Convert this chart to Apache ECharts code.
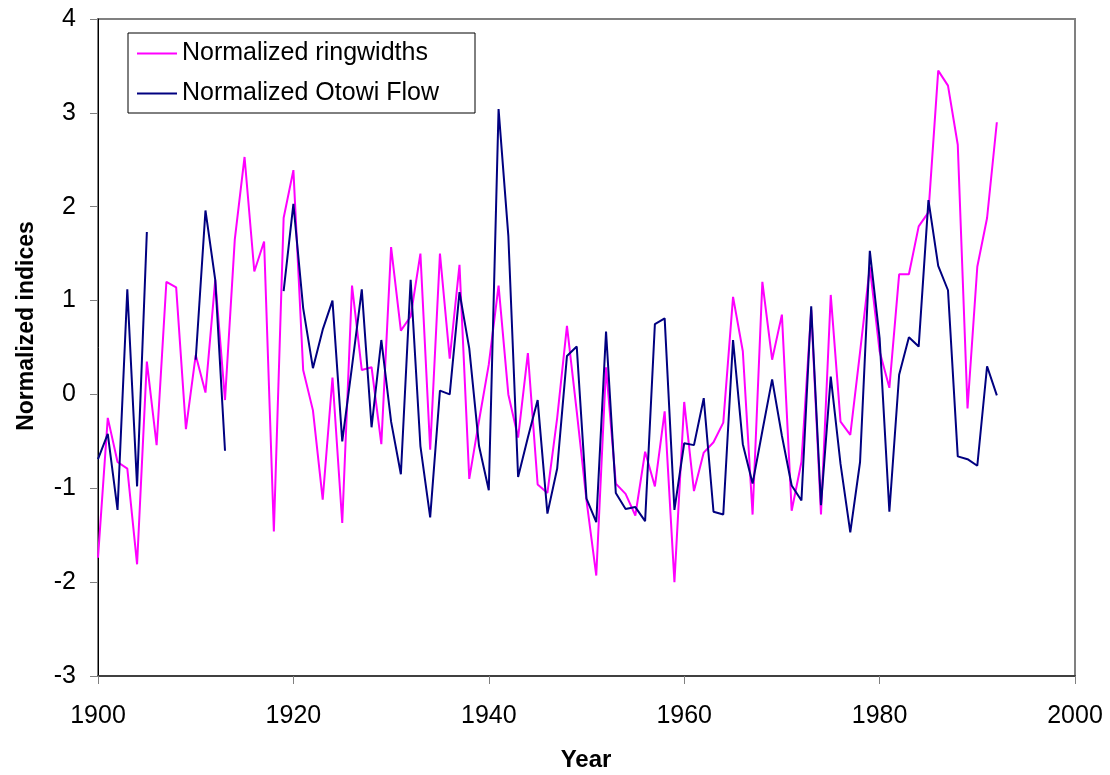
<!DOCTYPE html>
<html>
<head>
<meta charset="utf-8">
<script src="https://cdn.jsdelivr.net/npm/echarts@6/dist/echarts.min.js"></script>
<style>
html,body{margin:0;padding:0;background:#fff;}
#chart{width:1110px;height:775px;}
</style>
</head>
<body>
<div id="chart"></div>
<script>
const years = [1900,1901,1902,1903,1904,1905,1906,1907,1908,1909,
1910,1911,1912,1913,1914,1915,1916,1917,1918,1919,
1920,1921,1922,1923,1924,1925,1926,1927,1928,1929,
1930,1931,1932,1933,1934,1935,1936,1937,1938,1939,
1940,1941,1942,1943,1944,1945,1946,1947,1948,1949,
1950,1951,1952,1953,1954,1955,1956,1957,1958,1959,
1960,1961,1962,1963,1964,1965,1966,1967,1968,1969,
1970,1971,1972,1973,1974,1975,1976,1977,1978,1979,
1980,1981,1982,1983,1984,1985,1986,1987,1988,1989,
1990,1991,1992];

const ringwidths = [-1.74,-0.25,-0.72,-0.79,-1.81,0.35,-0.54,1.20,1.14,-0.37,
0.42,0.02,1.22,-0.06,1.65,2.53,1.31,1.63,-1.46,1.88,
2.39,0.26,-0.17,-1.12,0.18,-1.37,1.16,0.26,0.29,-0.53,
1.57,0.68,0.83,1.50,-0.59,1.50,0.38,1.38,-0.90,-0.28,
0.32,1.16,0.00,-0.46,0.44,-0.96,-1.05,-0.25,0.73,-0.18,
-1.13,-1.93,0.29,-0.95,-1.06,-1.29,-0.61,-0.98,-0.18,-2.00,
-0.08,-1.03,-0.62,-0.51,-0.30,1.04,0.46,-1.28,1.20,0.37,
0.85,-1.24,-0.72,0.90,-1.28,1.06,-0.29,-0.43,0.45,1.36,
0.46,0.07,1.28,1.28,1.79,1.94,3.45,3.29,2.66,-0.15,
1.36,1.88,2.90];

const otowiFlow = [-0.69,-0.42,-1.23,1.12,-0.98,1.73,null,null,null,null,
0.37,1.96,1.22,-0.60,null,null,null,null,null,1.10,
2.03,0.92,0.28,0.69,1.00,-0.50,0.30,1.12,-0.35,0.58,
-0.29,-0.85,1.22,-0.55,-1.31,0.04,0.00,1.09,0.49,-0.55,
-1.02,3.04,1.69,-0.88,-0.46,-0.06,-1.27,-0.79,0.41,0.51,
-1.11,-1.36,0.67,-1.05,-1.22,-1.20,-1.35,0.75,0.81,-1.23,
-0.52,-0.54,-0.04,-1.25,-1.28,0.58,-0.53,-0.95,-0.39,0.16,
-0.44,-0.97,-1.13,0.94,-1.18,0.19,-0.74,-1.47,-0.72,1.53,
0.60,-1.25,0.21,0.61,0.51,2.07,1.37,1.11,-0.66,-0.69,
-0.76,0.30,-0.01];

const seriesNames = ['Normalized ringwidths','Normalized Otowi Flow'];
const xTitle = 'Year';
const yTitle = 'Normalized indices';

const pair = (arr) => years.map((y, i) => [y, arr[i]]);

const font = 'Liberation Sans, Arial, sans-serif';
const chart = echarts.init(document.getElementById('chart'), null, {renderer:'canvas'});
chart.setOption({
  animation: false,
  backgroundColor: '#fff',
  grid: {left: 98, right: 35, top: 19, bottom: 99, show: true, borderColor: '#808080', borderWidth: 2, backgroundColor: 'transparent'},
  legend: {
    orient: 'vertical', left: 128, top: 33,
    backgroundColor: '#fff',
    borderColor: '#000', borderWidth: 1,
    padding: [8, 36, 7, 9],
    icon: 'path://M0,0L40,0L40,2L0,2Z',
    itemWidth: 40, itemHeight: 2, itemGap: 15,
    textStyle: {fontFamily: font, fontSize: 25, color: '#000', lineHeight: 25},
    data: seriesNames
  },
  xAxis: {
    type: 'value', min: 1900, max: 2000, interval: 20,
    axisLine: {onZero: false, lineStyle: {color: '#404040', width: 2}},
    axisTick: {show: true, length: 8, lineStyle: {color: '#808080', width: 1}},
    axisLabel: {fontFamily: font, fontSize: 25, color: '#000', margin: 28, formatter: (v) => String(v)},
    splitLine: {show: false}
  },
  yAxis: {
    type: 'value', min: -3, max: 4, interval: 1,
    axisLine: {show: true, onZero: false, lineStyle: {color: '#000', width: 1}},
    axisTick: {show: true, length: 8, lineStyle: {color: '#808080', width: 1}},
    axisLabel: {fontFamily: font, fontSize: 25, color: '#000', margin: 22},
    splitLine: {show: false}
  },
  graphic: [
    {type: 'text', x: 586, y: 760,
     style: {text: xTitle, fontFamily: font, fontSize: 24, fontWeight: 'bold', fill: '#000', align: 'center', verticalAlign: 'middle'}},
    {type: 'text', rotation: Math.PI / 2, x: 27, y: 326,
     style: {text: yTitle, fontFamily: font, fontSize: 23, fontWeight: 'bold', fill: '#000', align: 'center', verticalAlign: 'middle'}}
  ],
  series: [
    {name: seriesNames[0], type: 'line', data: pair(ringwidths), symbol: 'none', showSymbol: false,
     lineStyle: {color: '#ff00ff', width: 2}, itemStyle: {color: '#ff00ff'}, connectNulls: false, z: 2},
    {name: seriesNames[1], type: 'line', data: pair(otowiFlow), symbol: 'none', showSymbol: false,
     lineStyle: {color: '#000080', width: 2}, itemStyle: {color: '#000080'}, connectNulls: false, z: 3}
  ]
});
</script>
</body>
</html>
